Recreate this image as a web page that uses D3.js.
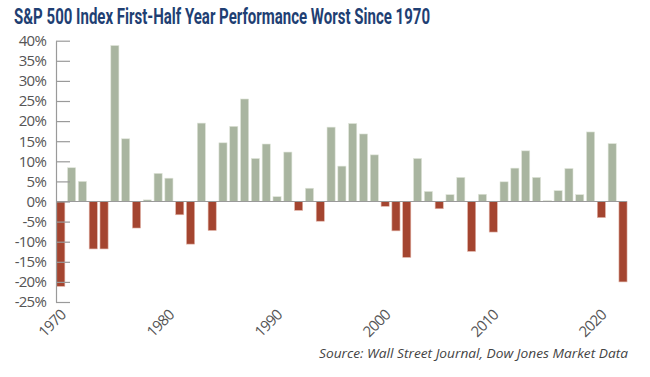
<!DOCTYPE html>
<html>
<head>
<meta charset="utf-8">
<script src="https://cdn.jsdelivr.net/npm/d3@7"></script>
<style>
  body { margin: 0; background: #fff; }
  svg { display: block; font-family: "Open Sans", "Liberation Sans", sans-serif; }
</style>
</head>
<body>
<svg id="chart"></svg>
<script>
(() => {
  const width = 650;
  const height = 377;

  // First-half returns (%), one per year 1970..2022
  const years = d3.range(1970, 2023);
  const returns = [
    -21.1, 8.4, 5.0, -11.8, -11.8, 38.8, 15.6, -6.6, 0.4, 7.0,
    5.8, -3.3, -10.6, 19.5, -7.2, 14.6, 18.7, 25.5, 10.7, 14.3,
    1.2, 12.3, -2.2, 3.3, -4.9, 18.5, 8.8, 19.4, 16.8, 11.6,
    -1.2, -7.3, -13.9, 10.7, 2.5, -1.8, 1.7, 6.0, -12.4, 1.8,
    -7.6, 4.9, 8.3, 12.6, 6.0, 0.2, 2.7, 8.2, 1.7, 17.3,
    -4.0, 14.4, -20.0
  ];
  const yTicks = d3.range(-25, 41, 5);
  const xLabels = [1970, 1980, 1990, 2000, 2010, 2020];

  const title = "S&P 500 Index First-Half Year Performance Worst Since 1970";
  const source = "Source: Wall Street Journal, Dow Jones Market Data";

  const posColor = "#a9b5a0";
  const negColor = "#a44530";
  const axisColor = "#9a9a9a";

  const data = years.map((y, i) => ({ year: y, value: returns[i] }));

  const svg = d3.select("#chart")
    .attr("width", width)
    .attr("height", height);

  // Scales
  const x = d3.scaleBand()
    .domain(years)
    .range([55.4, 628.4])
    .paddingInner(0.25)
    .paddingOuter(0.125);

  const y = d3.scaleLinear()
    .domain([-25, 40])
    .range([302, 40.7]);

  // Title
  svg.append("text")
    .attr("x", 14)
    .attr("y", 24)
    .attr("fill", "#1f3f73")
    .style("font-family", "'Liberation Sans Narrow', Roboto, sans-serif")
    .style("font-weight", "bold")
    .style("font-size", "22.5px")
    .attr("textLength", 416)
    .attr("lengthAdjust", "spacingAndGlyphs")
    .text(title);

  // Bars
  svg.append("g")
    .selectAll("rect")
    .data(data)
    .join("rect")
    .attr("x", d => x(d.year))
    .attr("width", x.bandwidth())
    .attr("y", d => y(Math.max(0, d.value)))
    .attr("height", d => Math.abs(y(d.value) - y(0)))
    .attr("fill", d => d.value >= 0 ? posColor : negColor)
    .attr("stroke", d => d.value >= 0 ? "#dfe5d9" : "#e2b4a8")
    .attr("stroke-width", 0.6);

  // Zero line
  svg.append("line")
    .attr("x1", 56)
    .attr("x2", 627)
    .attr("y1", y(0))
    .attr("y2", y(0))
    .attr("stroke", axisColor)
    .attr("stroke-width", 1);

  // Y axis (ticks pointing right, into the plot)
  const yAxis = svg.append("g")
    .attr("transform", "translate(56,0)")
    .call(d3.axisRight(y)
      .tickValues(yTicks)
      .tickSize(14)
      .tickSizeOuter(0)
      .tickFormat(d => d + "%"));

  yAxis.select(".domain").attr("stroke", axisColor).attr("stroke-width", 1.2);
  yAxis.selectAll(".tick line").attr("stroke", axisColor).attr("stroke-width", 1.2);
  yAxis.selectAll(".tick text")
    .attr("x", -10)
    .attr("text-anchor", "end")
    .attr("fill", "#555")
    .style("font-family", "'Open Sans', sans-serif")
    .style("font-size", "15px")
    .style("letter-spacing", "-0.8px");

  // X labels, rotated
  svg.append("g")
    .selectAll("text")
    .data(xLabels)
    .join("text")
    .attr("transform", d => `translate(${x(d) + x.bandwidth() / 2 + 6},${316}) rotate(-45)`)
    .attr("text-anchor", "end")
    .attr("fill", "#555")
    .style("font-size", "15px")
    .style("letter-spacing", "-0.8px")
    .text(d => d);

  // Source
  svg.append("text")
    .attr("x", 319)
    .attr("y", 358)
    .attr("fill", "#444")
    .style("font-style", "italic")
    .style("font-size", "13px")
    .attr("textLength", 309)
    .attr("lengthAdjust", "spacingAndGlyphs")
    .text(source);
})();
</script>
</body>
</html>
